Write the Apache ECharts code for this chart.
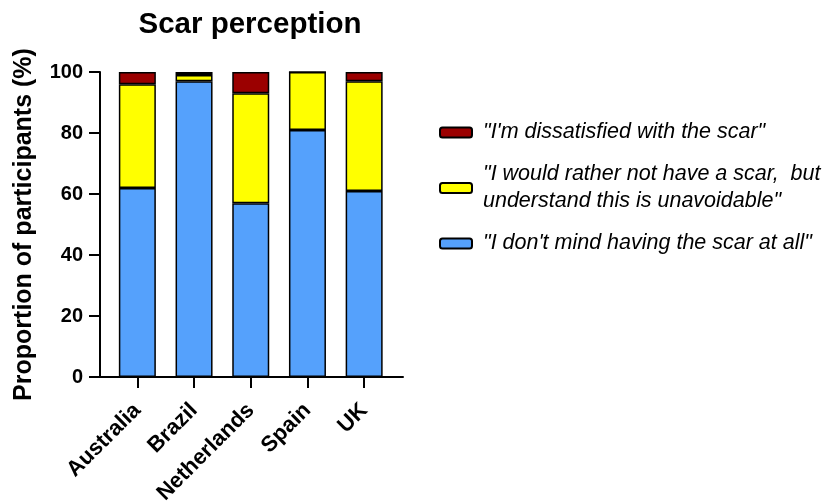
<!DOCTYPE html>
<html><head><meta charset="utf-8">
<script src="https://cdn.jsdelivr.net/npm/echarts@6/dist/echarts.min.js"></script>
<style>html,body{margin:0;padding:0;background:#fff}#c{width:822px;height:502px}</style>
</head><body><div id="c"></div>
<script>
const categories = ['Australia', 'Brazil', 'Netherlands', 'Spain', 'UK'];
const dontMind = [62, 97, 57, 81, 61];
const ratherNot = [34, 2, 36, 19, 36];
const dissatisfied = [4, 1, 7, 0, 3];
const yTicks = [0, 20, 40, 60, 80, 100];
const seriesNames = [
  '"I don\'t mind having the scar at all"',
  '"I would rather not have a scar,  but\nunderstand this is unavoidable"',
  '"I\'m dissatisfied with the scar"'
];
const colors = ['#55a1fc', '#ffff00', '#9b0000'];
const values = [dontMind, ratherNot, dissatisfied];

const font = '"Liberation Sans", Arial, sans-serif';
const chart = echarts.init(document.getElementById('c'), null, {renderer: 'canvas'});
chart.setOption({
  animation: false,
  textStyle: {fontFamily: font},
  title: {
    text: 'Scar perception', left: 245, top: 5, textAlign: 'center',
    textStyle: {fontSize: 29.5, fontWeight: 'bold', color: '#000', fontFamily: font}
  },
  legend: {
    orient: 'vertical', left: 434, top: 114,
    data: [seriesNames[2], seriesNames[1], seriesNames[0]],
    itemWidth: 32, itemHeight: 10, itemGap: 15,
    textStyle: {fontSize: 21.5, fontStyle: 'italic', color: '#000', fontFamily: font, lineHeight: 27, padding: [0,0,0,6]},
    selectedMode: false
  },
  grid: [
    {left: 109, width: 283.5, top: 72, bottom: 125, containLabel: false, outerBoundsMode: 'none'},
    {left: 100, right: 419, top: 72, bottom: 125, containLabel: false, outerBoundsMode: 'none'}
  ],
  xAxis: [
    {
      type: 'category', data: categories, gridIndex: 0,
      axisLine: {show: false},
      axisTick: {show: true, alignWithLabel: true, length: 11, lineStyle: {color: '#000', width: 2}},
      axisLabel: {rotate: 45, fontSize: 22, fontWeight: 'bold', color: '#000', margin: 30, fontFamily: font}
    },
    {
      type: 'value', gridIndex: 1, min: 0, max: 1,
      axisLine: {show: true, onZero: false, lineStyle: {color: '#000', width: 2}},
      axisTick: {show: false}, axisLabel: {show: false}, splitLine: {show: false}
    }
  ],
  yAxis: [
    {
      type: 'value', gridIndex: 0, min: 0, max: 100, interval: 20, offset: 9,
      name: 'Proportion of participants (%)', nameLocation: 'middle', nameGap: 63,
      nameTextStyle: {fontSize: 25, fontWeight: 'bold', color: '#000', fontFamily: font},
      axisLine: {show: true, lineStyle: {color: '#000', width: 2}},
      axisTick: {show: true, length: 11, lineStyle: {color: '#000', width: 2}},
      axisLabel: {fontSize: 20, fontWeight: 'bold', color: '#000', margin: 17, fontFamily: font,
        formatter: v => yTicks.includes(v) ? String(v) : ''},
      splitLine: {show: false}
    },
    {
      type: 'value', gridIndex: 1, min: 0, max: 1, show: false
    }
  ],
  series: values.map((v, i) => ({
    name: seriesNames[i], type: 'bar', stack: 'total', data: v,
    xAxisIndex: 0, yAxisIndex: 0,
    barWidth: 37,
    itemStyle: {color: colors[i], borderColor: '#000', borderWidth: 1.5}
  }))
});
</script></body></html>
